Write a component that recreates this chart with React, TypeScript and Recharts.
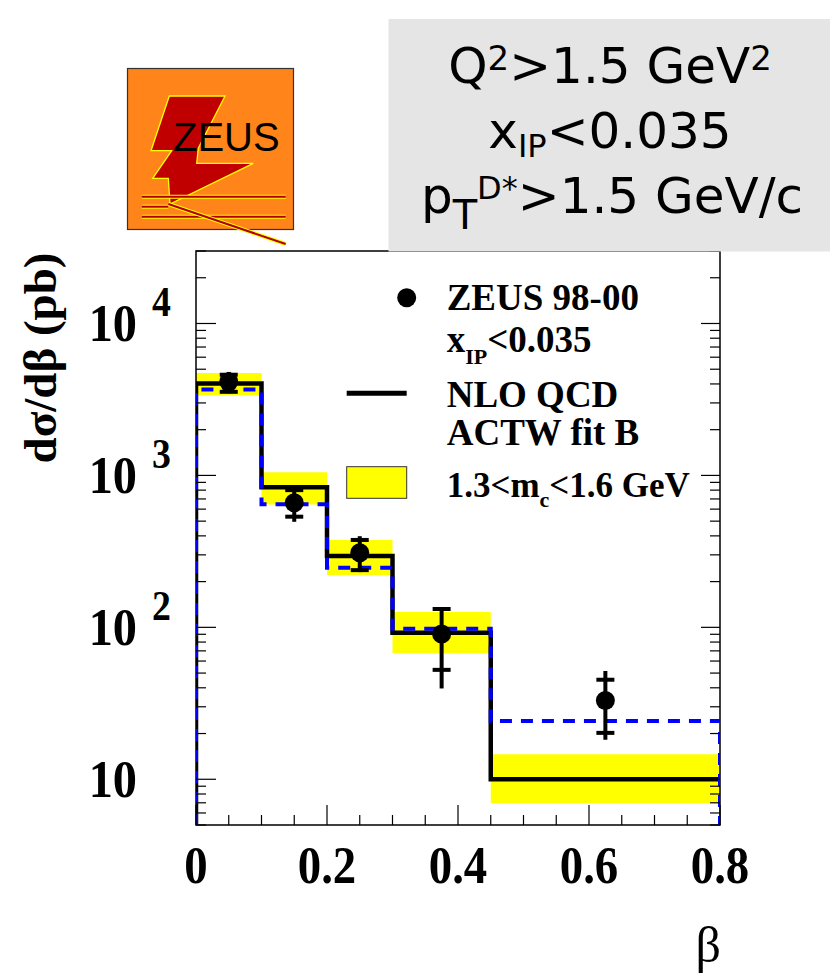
import React from 'react';
import { ComposedChart, XAxis, YAxis, Line, Scatter, ReferenceArea, ReferenceLine } from 'recharts';

// ---- data ----
const binEdges = [0, 0.1, 0.2, 0.3, 0.45, 0.8];
const nloBlack = [4030, 835, 295, 92, 10];
const nloBlue = [3680, 645, 247, 98, 24.2];
const bandLow = [3370, 643, 221, 67.5, 6.95];
const bandHigh = [4730, 1050, 376, 126, 14.6];

const dataX = [0.05, 0.15, 0.25, 0.375, 0.625];
const dataY = [4130, 660, 310, 90.5, 33];
const statLow = [3550, 535, 238, 52.5, 20.2];
const statHigh = [4600, 800, 376, 132, 45.2];
const totLow = [3470, 495, 231, 39.6, 18.2];
const totHigh = [4800, 830, 398, 132, 51.6];

const xTicks = [0, 0.05, 0.1, 0.15, 0.2, 0.25, 0.3, 0.35, 0.4, 0.45, 0.5, 0.55, 0.6, 0.65, 0.7, 0.75, 0.8];
const xMajor = [0, 0.2, 0.4, 0.6, 0.8];
const yTicks = [5, 6, 7, 8, 9, 10, 20, 30, 40, 50, 60, 70, 80, 90, 100, 200, 300, 400, 500, 600, 700, 800, 900,
  1000, 2000, 3000, 4000, 5000, 6000, 7000, 8000, 9000, 10000, 20000, 30000];
const yMajor = [10, 100, 1000, 10000];
const Y_MIN = 5;
const Y_MAX = 30000;
const X_MIN = 0;
const X_MAX = 0.8;

// histogram outlines (closed to the axis floor at the left edge)
const histo = (vals: number[], closeRight: boolean) => {
  const pts: { x: number; y: number }[] = [{ x: binEdges[0], y: Y_MIN }];
  vals.forEach((v, i) => pts.push({ x: binEdges[i], y: v }));
  pts.push({ x: binEdges[binEdges.length - 1], y: vals[vals.length - 1] });
  if (closeRight) pts.push({ x: binEdges[binEdges.length - 1], y: Y_MIN });
  return pts;
};
const blackData = histo(nloBlack, false);
const blueData = histo(nloBlue, true);

const points = dataX.map((x, i) => ({ x, y: dataY[i] }));

const SERIF = '"Liberation Serif", "Times New Roman", serif';
const SANS = '"DejaVu Sans", sans-serif';

const isMajX = (v: number) => xMajor.some((m) => Math.abs(m - v) < 1e-9);
const isMajY = (v: number) => yMajor.includes(v);

const XTickBottom = (p: any) => {
  const { x, y, payload } = p;
  const v = payload.value;
  const maj = isMajX(v);
  return (
    <g>
      <line x1={x} x2={x} y1={y} y2={y - (maj ? 20 : 10)} stroke="#000" strokeWidth={1.2} />
      {maj && (
        <text
          transform={`translate(${x},${y + 58}) scale(0.9,1)`}
          textAnchor="middle"
          fontFamily={SERIF}
          fontWeight="bold"
          fontSize={52}
          fill="#000"
        >
          {v === 0 ? '0' : v.toFixed(1)}
        </text>
      )}
    </g>
  );
};
const XTickTop = (p: any) => {
  const { x, y, payload } = p;
  const maj = isMajX(payload.value);
  return <line x1={x} x2={x} y1={y} y2={y + (maj ? 21 : 11)} stroke="#000" strokeWidth={1.2} />;
};
const YTickLeft = (p: any) => {
  const { x, y, payload } = p;
  const v = payload.value;
  const maj = isMajY(v);
  const exp = Math.round(Math.log10(v));
  return (
    <g>
      <line x1={x} x2={x + (maj ? 20 : 10)} y1={y} y2={y} stroke="#000" strokeWidth={1.2} />
      {maj && (
        <text
          transform={`translate(${x - 59},${y + 18}) scale(0.93,1)`}
          textAnchor="end"
          fontFamily={SERIF}
          fontWeight="bold"
          fontSize={52}
          fill="#000"
        >
          10
        </text>
      )}
      {maj && exp > 1 && (
        <text
          transform={`translate(${x - 44},${y - 7}) scale(0.9,1)`}
          textAnchor="start"
          fontFamily={SERIF}
          fontWeight="bold"
          fontSize={42}
          fill="#000"
        >
          {exp}
        </text>
      )}
    </g>
  );
};
const YTickRight = (p: any) => {
  const { x, y, payload } = p;
  const maj = isMajY(payload.value);
  return <line x1={x} x2={x - (maj ? 19 : 10)} y1={y} y2={y} stroke="#000" strokeWidth={1.2} />;
};

const Dot = (p: any) => <circle cx={p.cx} cy={p.cy} r={9.5} fill="#000" />;

// vertical error segment (total uncertainty)
const ErrLine = (p: any) => (
  <line x1={p.x1} y1={p.y1} x2={p.x2} y2={p.y2} stroke="#000" strokeWidth={4} />
);
// crossbars at the ends of the statistical uncertainty
const StatCaps = (p: any) => (
  <g stroke="#000" strokeWidth={4}>
    <line x1={p.x1 - 9} x2={p.x1 + 9} y1={p.y1} y2={p.y1} />
    <line x1={p.x2 - 9} x2={p.x2 + 9} y1={p.y2} y2={p.y2} />
  </g>
);

const Overlay = () => (
  <svg width={830} height={978} style={{ position: 'absolute', left: 0, top: 0, pointerEvents: 'none' }}>
    {/* ZEUS logo */}
    <rect x={127.5} y={68.5} width={166} height={161} fill="#ff8419" stroke="#333" strokeWidth={1.2} />
    <polygon
      points="169.3,96 225,96 198.3,148.3 196.7,163.3 253.3,163.3 170,204 168.3,178.3 152.7,178.3 171.7,150.7 151,150.7"
      fill="#c00000"
      stroke="#ffff00"
      strokeWidth={1.3}
    />
    <text x={173} y={150.5} fontFamily='"Liberation Sans", Arial, sans-serif' fontSize={40} fill="#000">
      ZEUS
    </text>
    {[
      [141.7, 196.7, 285.7, 196.7],
      [141.7, 206.7, 168.3, 206.7],
      [141.7, 216.7, 285.7, 216.7],
      [168.3, 204, 285.7, 244],
    ].map((l, i) => (
      <g key={i}>
        <line x1={l[0]} y1={l[1]} x2={l[2]} y2={l[3]} stroke="#ffff00" strokeWidth={4} />
        <line x1={l[0]} y1={l[1]} x2={l[2]} y2={l[3]} stroke="#b00000" strokeWidth={2} />
      </g>
    ))}

    {/* grey cut box */}
    <rect x={388.5} y={19} width={441.5} height={232.5} fill="#e5e5e5" />
    <g fontFamily={SANS} fontSize={50} fill="#000" textAnchor="middle">
      <text x={610} y={83.3}>
        Q<tspan fontSize={34} dy={-13}>2</tspan>
        <tspan dy={13}>&gt;1.5 GeV</tspan>
        <tspan fontSize={34} dy={-13}>2</tspan>
      </text>
      <text x={610} y={148.3}>
        x<tspan fontSize={32} dy={9}>IP</tspan>
        <tspan dy={-9}>&lt;0.035</tspan>
      </text>
      <text x={612} y={213.3}>
        p<tspan fontSize={40} dy={16}>T</tspan>
        <tspan fontSize={32} dy={-30}>D*</tspan>
        <tspan dy={14}>&gt;1.5 GeV/c</tspan>
      </text>
    </g>

    {/* legend */}
    <circle cx={406.7} cy={297.7} r={9.5} fill="#000" />
    <line x1={346.7} x2={406.7} y1={393.3} y2={393.3} stroke="#000" strokeWidth={5} />
    <rect x={346.7} y={466.7} width={60} height={31.6} fill="#ffff00" stroke="#333" strokeWidth={1} />
    <g fontFamily={SERIF} fontWeight="bold" fontSize={37} fill="#000">
      <text x={446.7} y={310}>ZEUS 98-00</text>
      <text x={446.7} y={351.7}>
        x<tspan fontSize={22} dy={12}>IP</tspan>
        <tspan dy={-12}>&lt;0.035</tspan>
      </text>
      <text x={446.7} y={406.7}>NLO QCD</text>
      <text x={446.7} y={445}>ACTW fit B</text>
      <text x={446.7} y={496.7} fontSize={35}>
        1.3&lt;m<tspan fontSize={22} dy={10}>c</tspan>
        <tspan dy={-10}>&lt;1.6 GeV</tspan>
      </text>
    </g>

    {/* axis titles */}
    <text
      x={0}
      y={0}
      transform="translate(56,358) rotate(-90)"
      textAnchor="middle"
      fontFamily={SERIF}
      fontWeight="bold"
      fontSize={47}
      fill="#000"
    >
      dσ/dβ (pb)
    </text>
    <text x={721} y={962} textAnchor="end" fontFamily={SERIF} fontSize={50} fill="#000">
      β
    </text>
  </svg>
);

export default function App() {
  return (
    <div style={{ position: 'absolute', left: 0, top: 0, width: 830, height: 978, background: '#fff' }}>
      <ComposedChart width={830} height={978} margin={{ top: 250, right: 109, bottom: 152, left: 195 }}>
        <XAxis
          xAxisId={0}
          dataKey="x"
          type="number"
          domain={[X_MIN, X_MAX]}
          allowDataOverflow
          ticks={xTicks}
          interval={0}
          height={1}
          tickSize={0}
          tickMargin={0}
          axisLine={false}
          tickLine={false}
          tick={<XTickBottom />}
        />
        <XAxis
          xAxisId="t"
          orientation="top"
          type="number"
          domain={[X_MIN, X_MAX]}
          allowDataOverflow
          ticks={xTicks}
          interval={0}
          height={1}
          tickSize={0}
          tickMargin={0}
          axisLine={false}
          tickLine={false}
          tick={<XTickTop />}
        />
        <YAxis
          yAxisId={0}
          type="number"
          scale="log"
          domain={[Y_MIN, Y_MAX]}
          allowDataOverflow
          ticks={yTicks}
          interval={0}
          width={1}
          tickSize={0}
          tickMargin={0}
          axisLine={false}
          tickLine={false}
          tick={<YTickLeft />}
        />
        <YAxis
          yAxisId="r"
          orientation="right"
          type="number"
          scale="log"
          domain={[Y_MIN, Y_MAX]}
          allowDataOverflow
          ticks={yTicks}
          interval={0}
          width={1}
          tickSize={0}
          tickMargin={0}
          axisLine={false}
          tickLine={false}
          tick={<YTickRight />}
        />
        {nloBlack.map((_, i) => (
          <ReferenceArea
            key={'band' + i}
            x1={binEdges[i]}
            x2={binEdges[i + 1]}
            y1={bandLow[i]}
            y2={bandHigh[i]}
            fill="#ffff00"
            fillOpacity={1}
            stroke="none"
            ifOverflow="visible"
          />
        ))}
        <Line
          data={blackData}
          dataKey="y"
          type="stepAfter"
          stroke="#000"
          strokeWidth={4.5}
          dot={false}
          isAnimationActive={false}
        />
        <Line
          data={blueData}
          dataKey="y"
          type="stepAfter"
          stroke="#0000ff"
          strokeWidth={4}
          strokeDasharray="12 9"
          dot={false}
          isAnimationActive={false}
        />
        {dataX.map((x, i) => (
          <ReferenceLine
            key={'tot' + i}
            segment={[
              { x, y: totLow[i] },
              { x, y: totHigh[i] },
            ]}
            ifOverflow="visible"
            stroke="#000"
            strokeWidth={4}
            shape={<ErrLine />}
          />
        ))}
        {dataX.map((x, i) => (
          <ReferenceLine
            key={'stat' + i}
            segment={[
              { x, y: statLow[i] },
              { x, y: statHigh[i] },
            ]}
            ifOverflow="visible"
            stroke="#000"
            strokeWidth={4}
            shape={<StatCaps />}
          />
        ))}
        <Scatter data={points} dataKey="y" shape={<Dot />} isAnimationActive={false} />
        <ReferenceArea
          x1={X_MIN}
          x2={X_MAX}
          y1={Y_MIN}
          y2={Y_MAX}
          fill="none"
          stroke="#000"
          strokeWidth={1.5}
          ifOverflow="visible"
        />
      </ComposedChart>
      <Overlay />
    </div>
  );
}
